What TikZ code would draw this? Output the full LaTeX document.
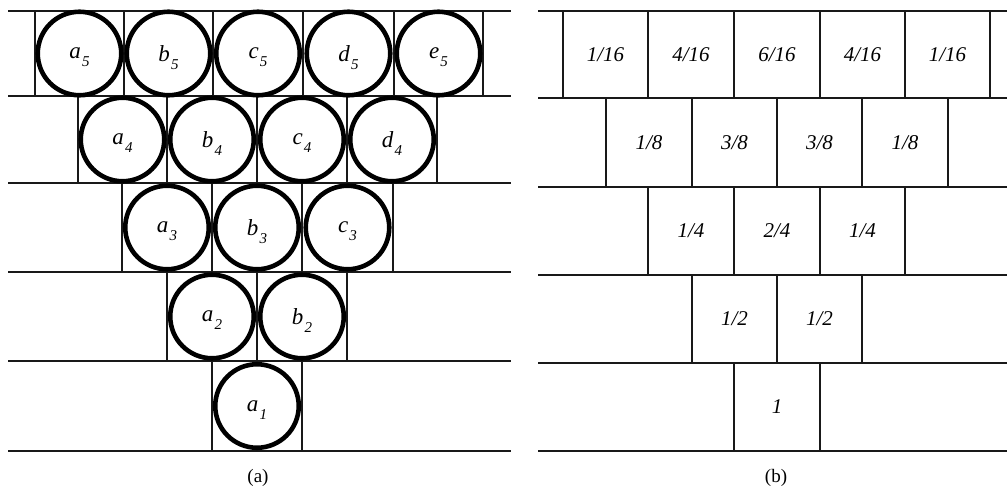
\documentclass[tikz,border=0pt]{standalone}
\usepackage{fontspec}
\setmainfont{Liberation Serif}
\newcommand\sublbl[2]{\textit{#1}\kern1.2pt\raisebox{-8pt}[0pt][0pt]{\fontsize{15}{15}\selectfont\textit{#2}}}
\begin{document}
\begin{tikzpicture}[x=1pt,y=-1pt,
  gridline/.style={line width=2pt, draw=black!90},
  ring/.style={circle, draw=black, line width=4.6pt, minimum size=83.5pt, inner sep=0pt,
    font=\fontsize{23}{23}\selectfont},
  frac/.style={font=\fontsize{21}{21}\selectfont\itshape, inner sep=0pt},
  captext/.style={font=\fontsize{19}{19}\selectfont, inner sep=0pt}]
\useasboundingbox (0,0) rectangle (1007,493);

% ---------- panel (a): grid ----------
\foreach \y in {11,96,183,272,361,451}
  \draw[gridline] (8,\y) -- (511,\y);
\foreach \x in {35,124,213,303,394,483} \draw[gridline] (\x,11) -- (\x,96);
\foreach \x in {78,167,257,347,437} \draw[gridline] (\x,96) -- (\x,183);
\foreach \x in {122,212,302,393} \draw[gridline] (\x,183) -- (\x,272);
\foreach \x in {167,257,347} \draw[gridline] (\x,272) -- (\x,361);
\foreach \x in {212,302} \draw[gridline] (\x,361) -- (\x,451);

% ---------- panel (a): circles ----------
\node[ring] (a5) at (79.5,53.5) {\sublbl{a}{5}};
\node[ring] (b5) at (168.5,53.5) {\sublbl{b}{5}};
\node[ring] (c5) at (258,53.5) {\sublbl{c}{5}};
\node[ring] (d5) at (348.5,53.5) {\sublbl{d}{5}};
\node[ring] (e5) at (438.5,53.5) {\sublbl{e}{5}};

\node[ring] (a4) at (122.5,139.5) {\sublbl{a}{4}};
\node[ring] (b4) at (212,139.5) {\sublbl{b}{4}};
\node[ring] (c4) at (302,139.5) {\sublbl{c}{4}};
\node[ring] (d4) at (392,139.5) {\sublbl{d}{4}};

\node[ring] (a3) at (167,227.5) {\sublbl{a}{3}};
\node[ring] (b3) at (257,227.5) {\sublbl{b}{3}};
\node[ring] (c3) at (347.5,227.5) {\sublbl{c}{3}};

\node[ring] (a2) at (212,316.5) {\sublbl{a}{2}};
\node[ring] (b2) at (302,316.5) {\sublbl{b}{2}};

\node[ring] (a1) at (257,406) {\sublbl{a}{1}};

\node[captext] (capa) at (258,478) {(a)};

% ---------- panel (b): grid ----------
\foreach \y in {11,98,187,275,363,451}
  \draw[gridline] (538,\y) -- (1007,\y);
\foreach \x in {563,648,734,820,905,990} \draw[gridline] (\x,11) -- (\x,98);
\foreach \x in {606,692,777,862,948} \draw[gridline] (\x,98) -- (\x,187);
\foreach \x in {648,734,820,905} \draw[gridline] (\x,187) -- (\x,275);
\foreach \x in {692,777,862} \draw[gridline] (\x,275) -- (\x,363);
\foreach \x in {734,820} \draw[gridline] (\x,363) -- (\x,451);

% ---------- panel (b): labels ----------
\node[frac] (p51) at (605.5,54.5) {1/16};
\node[frac] (p52) at (691,54.5) {4/16};
\node[frac] (p53) at (777,54.5) {6/16};
\node[frac] (p54) at (862.5,54.5) {4/16};
\node[frac] (p55) at (947.5,54.5) {1/16};

\node[frac] (p41) at (649,142.5) {1/8};
\node[frac] (p42) at (734.5,142.5) {3/8};
\node[frac] (p43) at (819.5,142.5) {3/8};
\node[frac] (p44) at (905,142.5) {1/8};

\node[frac] (p31) at (691,231) {1/4};
\node[frac] (p32) at (777,231) {2/4};
\node[frac] (p33) at (862.5,231) {1/4};

\node[frac] (p21) at (734.5,319) {1/2};
\node[frac] (p22) at (819.5,319) {1/2};

\node[frac] (p11) at (777,407) {1};

\node[captext] (capb) at (776,478) {(b)};
\end{tikzpicture}
\end{document}
